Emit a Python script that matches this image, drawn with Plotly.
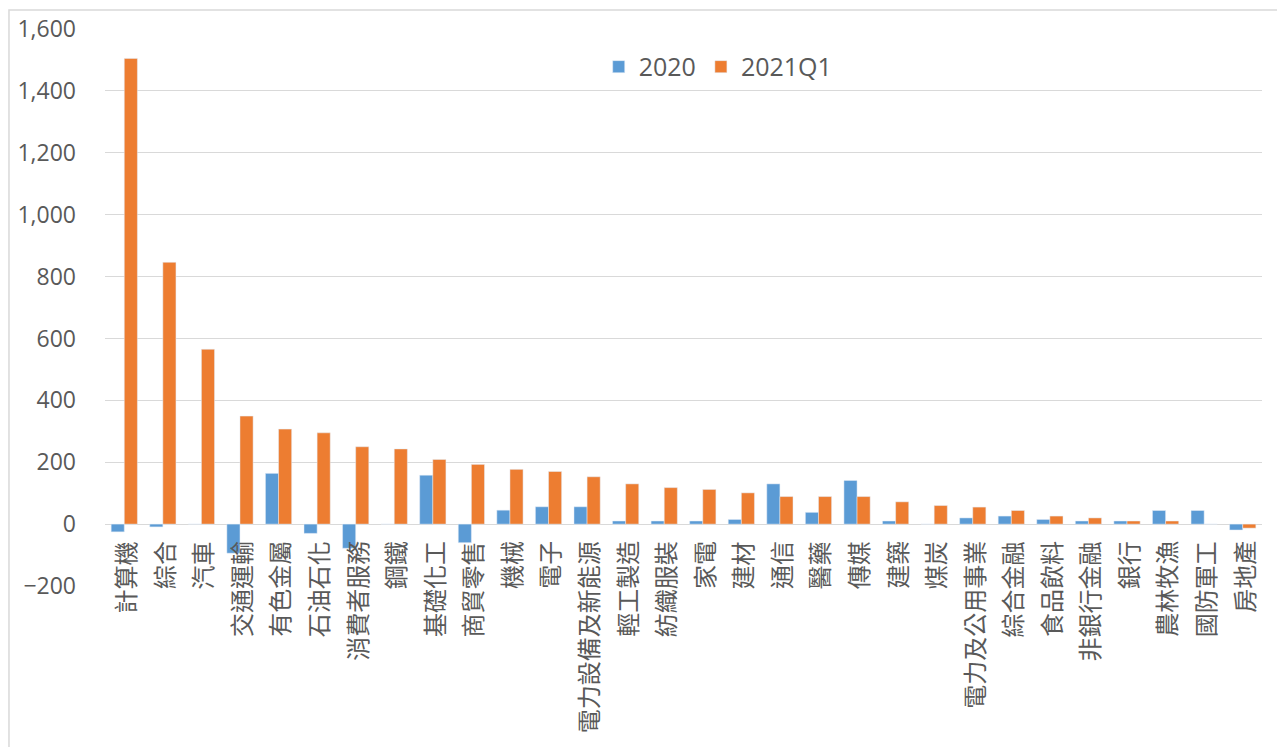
import plotly.graph_objects as go

categories = ["計算機", "綜合", "汽車", "交通運輸", "有色金屬", "石油石化", "消費者服務", "鋼鐵",
              "基礎化工", "商貿零售", "機械", "電子", "電力設備及新能源", "輕工製造", "紡織服裝",
              "家電", "建材", "通信", "醫藥", "傳媒", "建築", "煤炭", "電力及公用事業", "綜合金融",
              "食品飲料", "非銀行金融", "銀行", "農林牧漁", "國防軍工", "房地產"]
values_2020 = [-25, -9, 0, -94, 164, -30, -78, 0, 158, -60, 45, 56, 56, 10, 10, 10, 15, 130,
               38, 141, 10, 0, 20, 26, 15, 10, 10, 44, 44, -19]
values_2021q1 = [1505, 846, 565, 349, 307, 295, 250, 243, 209, 193, 177, 170, 153, 130, 118,
                 112, 101, 89, 89, 89, 72, 60, 55, 44, 26, 20, 10, 10, 0, -13]
tick_vals = [-200, 0, 200, 400, 600, 800, 1000, 1200, 1400, 1600]

fig = go.Figure()
fig.add_trace(go.Bar(x=categories, y=values_2020, name="2020", marker_color="#5b9bd5"))
fig.add_trace(go.Bar(x=categories, y=values_2021q1, name="2021Q1", marker_color="#ed7d31"))

# category labels rotated -90 deg, hanging just below the zero line
for c in categories:
    fig.add_annotation(x=c, y=0, xref="x", yref="y", text=c, textangle=-90,
                       showarrow=False, yanchor="top", xanchor="center", yshift=-15,
                       font=dict(family="Noto Sans CJK TC", size=24, color="#595959"))

# outer chart border
fig.add_shape(type="rect", xref="paper", yref="paper", x0=-0.083, x1=1.2, y0=-0.5, y1=1.034,
              line=dict(color="#d9d9d9", width=1.5), fillcolor="rgba(0,0,0,0)", layer="below")

fig.update_layout(
    width=1277, height=747,
    margin=dict(l=105, r=15, t=29, b=161),
    plot_bgcolor="white", paper_bgcolor="white",
    barmode="group", bargap=0.32, bargroupgap=0.0,
    font=dict(family="Noto Sans CJK TC", color="#595959"),
    legend=dict(orientation="h", x=0.53, xanchor="center", y=0.932, yanchor="middle",
                font=dict(size=25, color="#595959", family="Open Sans"),
                itemwidth=30, traceorder="normal"),
    xaxis=dict(showticklabels=False, showgrid=False, zeroline=False, showline=False,
               range=[-0.5, len(categories) - 0.5]),
    yaxis=dict(range=[-200, 1600], tickvals=tick_vals, tickformat=",",
               showgrid=True, gridcolor="#d9d9d9", gridwidth=1,
               zeroline=True, zerolinecolor="#d9d9d9", zerolinewidth=1,
               tickfont=dict(size=23, color="#595959", family="Open Sans"),
               ticklabelstandoff=28, showline=False),
)

fig.write_html("out.html")
